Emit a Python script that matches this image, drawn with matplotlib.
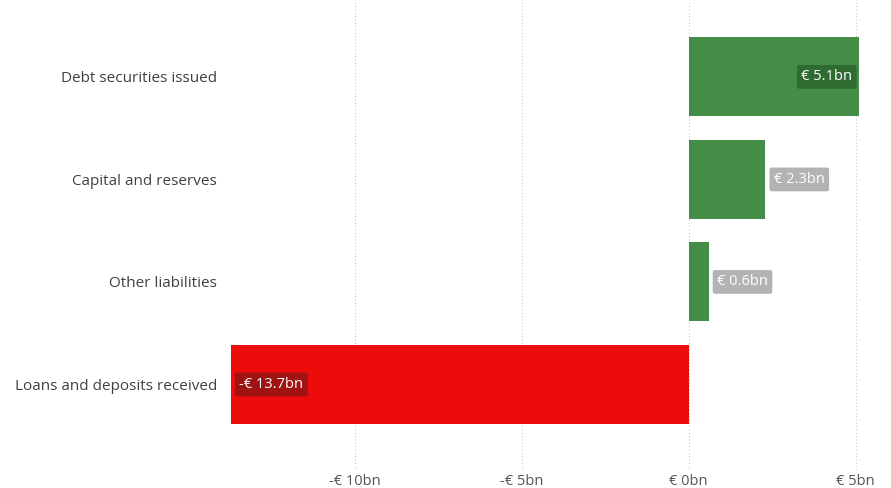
import matplotlib.pyplot as plt

plt.rcParams['font.family'] = ['Open Sans', 'DejaVu Sans']

categories = ['Loans and deposits received', 'Other liabilities', 'Capital and reserves', 'Debt securities issued']
values = [-13.7, 0.6, 2.3, 5.1]
labels = ['-€ 13.7bn', '€ 0.6bn', '€ 2.3bn', '€ 5.1bn']
ticks = [-10, -5, 0, 5]
tick_labels = ['-€ 10bn', '-€ 5bn', '€ 0bn', '€ 5bn']

fig = plt.figure(figsize=(8.91, 4.88), dpi=100)
ax = fig.add_axes([0.2593, 0.0369, 0.7048, 0.9631])

pos = range(len(categories))
colors = ['#ed0c0c' if v < 0 else '#458c46' for v in values]
ax.barh(pos, values, height=0.77, color=colors, zorder=2)

box = dict(boxstyle='round,pad=0.3,rounding_size=0.15', ec='none')
for y, v, lab in zip(pos, values, labels):
    if v < 0:
        ax.text(v + 0.25, y, lab, ha='left', va='center', color='white', fontsize=10.5, zorder=3,
                bbox=dict(box, fc='#a01313'))
    elif v > 4:
        ax.text(v - 0.2, y, lab, ha='right', va='center', color='white', fontsize=10.5, zorder=3,
                bbox=dict(box, fc='#2f6a31'))
    else:
        ax.text(v + 0.25, y, lab, ha='left', va='center', color='white', fontsize=10.5, zorder=3,
                bbox=dict(box, fc='#b3b3b3'))

ax.set_xlim(-13.7, 5.1)
ax.set_ylim(-0.834, 3.75)
ax.set_xticks(ticks)
ax.set_xticklabels(tick_labels)
ax.set_yticks(list(pos))
ax.set_yticklabels(categories)
ax.tick_params(axis='both', length=0)
ax.tick_params(axis='y', pad=10, labelsize=11, labelcolor='#404040')
ax.tick_params(axis='x', pad=3, labelsize=10.5, labelcolor='#555555')
ax.grid(axis='x', color='#cccccc', linestyle=(0, (1, 2)), linewidth=0.8, zorder=0)
for s in ax.spines.values():
    s.set_visible(False)

fig.savefig('out.png', dpi=100)
